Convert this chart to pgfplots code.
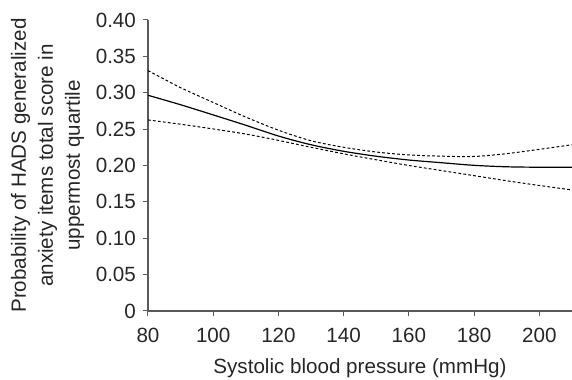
\documentclass[border=0pt]{standalone}
\usepackage{pgfplots}
\pgfplotsset{compat=1.18}
\usepackage{fontspec}
\setmainfont{Liberation Sans}
\begin{document}
\begin{tikzpicture}
\begin{axis}[
  width=212pt, height=145.5pt, scale only axis,
  xmin=80, xmax=210, ymin=0, ymax=0.40,
  axis lines=left,
  axis line style={-, draw=black!65, line width=0.7pt},
  tick align=outside,
  tick style={draw=black!65, line width=0.5pt},
  major tick length=2.5pt,
  xtick={80,100,...,200},
  ytick={0,0.05,0.10,0.15,0.20,0.25,0.30,0.35,0.40},
  yticklabels={0,0.05,0.10,0.15,0.20,0.25,0.30,0.35,0.40},
  /pgf/number format/assume math mode=true,
  ticklabel style={font=\fontsize{10.3}{11}\selectfont, text=black!85},
  xticklabel style={yshift=-2.5pt},
  xlabel={Systolic blood pressure (mmHg)},
  ylabel={Probability of HADS generalized\\[2.5pt]anxiety items total score in\\[2.5pt]uppermost quartile},
  label style={font=\fontsize{10.3}{11}\selectfont, text=black!85},
  ylabel style={align=center, yshift=-1pt},
  xlabel style={yshift=-1pt},
  clip=false,
]
\addplot[black, line width=0.6pt, smooth] coordinates {
 (80,0.2965) (90,0.2835) (100,0.2695) (110,0.2553) (120,0.2405) (130,0.2285) (140,0.2195) (150,0.2127) (160,0.2075) (170,0.2038) (180,0.2002) (190,0.1982) (200,0.1976) (210,0.1976)};
\addplot[black, line width=0.5pt, smooth, dash pattern=on 1.4pt off 1.1pt] coordinates {
 (80,0.3305) (90,0.3070) (100,0.2866) (110,0.2665) (120,0.2485) (130,0.2340) (140,0.2250) (150,0.2185) (160,0.2145) (170,0.2128) (180,0.2124) (190,0.2163) (200,0.2222) (210,0.2285)};
\addplot[black, line width=0.5pt, smooth, dash pattern=on 1.4pt off 1.1pt] coordinates {
 (80,0.2626) (90,0.2567) (100,0.2502) (110,0.2432) (120,0.2345) (130,0.2250) (140,0.2160) (150,0.2078) (160,0.2000) (170,0.1930) (180,0.1860) (190,0.1790) (200,0.1725) (210,0.1664)};
\coordinate (bl) at (rel axis cs:-0.349,-0.237);
\coordinate (tr) at (rel axis cs:1.0,1.0687);
\end{axis}
\pgfresetboundingbox
\useasboundingbox (bl) rectangle (tr);
\end{tikzpicture}
\end{document}
